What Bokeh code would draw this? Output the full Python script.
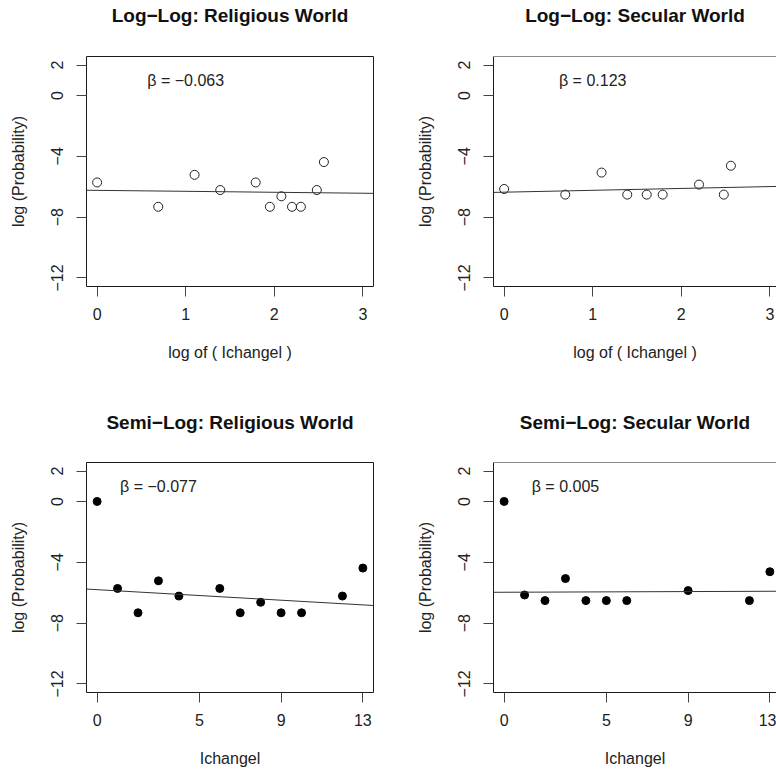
import math
from bokeh.plotting import figure
from bokeh.models import FixedTicker, Slope, ColumnDataSource, Range1d, Span, Title
from bokeh.layouts import column, row
from bokeh.embed import file_html
from bokeh.resources import INLINE
from bokeh.core.properties import value

FONT = "Liberation Sans"

# ---- data ----
titles = ["Log\u2212Log: Religious World", "Log\u2212Log: Secular World",
          "Semi\u2212Log: Religious World", "Semi\u2212Log: Secular World"]
xlabels = ["log of ( Ichangel )", "log of ( Ichangel )", "Ichangel", "Ichangel"]
ylabel = "log (Probability)"

loglog_rel_x = [0.0, 0.69, 1.10, 1.39, 1.79, 1.95, 2.08, 2.20, 2.30, 2.48, 2.56]
loglog_rel_y = [-5.72, -7.32, -5.22, -6.22, -5.72, -7.32, -6.63, -7.32, -7.32, -6.22, -4.38]

loglog_sec_x = [0.0, 0.69, 1.10, 1.39, 1.61, 1.79, 2.20, 2.48, 2.56]
loglog_sec_y = [-6.15, -6.52, -5.07, -6.52, -6.52, -6.52, -5.86, -6.52, -4.62]

semilog_rel_x = [0, 1, 2, 3, 4, 6, 7, 8, 9, 10, 12, 13]
semilog_rel_y = [0.0, -5.72, -7.32, -5.22, -6.22, -5.72, -7.32, -6.63, -7.32, -7.32, -6.22, -4.38]

semilog_sec_x = [0, 1, 2, 3, 4, 5, 6, 9, 12, 13]
semilog_sec_y = [0.0, -6.15, -6.52, -5.07, -6.52, -6.52, -6.52, -5.86, -6.52, -4.62]

betas = [-0.063, 0.123, -0.077, 0.005]
intercepts = [-6.24, -6.36, -5.80, -5.97]
beta_labels = ["\u03b2 = \u22120.063", "\u03b2 = 0.123", "\u03b2 = \u22120.077", "\u03b2 = 0.005"]
beta_pos_x = [1, 1, 3, 3]
beta_pos_y = [1, 1, 1, 1]

loglog_xticks = [0, 1, 2, 3]
semilog_xticks = [0, 5, 9, 13]
yticks = [-12, -8, -4, 0, 2]
Y_LIM = (-12, 2)
LOG_XLIM = (0, 3)
SEMI_XLIM = (0, 13)

FRAME_W = 287      # full (uncut) plot-box width in px
FRAME_H = 230
PAD = 0.04         # R-style axis padding
WIN_RIGHT_FRAME = 283  # visible part of the right column boxes


def padded(lim):
    d = lim[1] - lim[0]
    return (lim[0] - PAD * d, lim[1] + PAD * d)


def panel(i, xs, ys, xticks, xlim, filled, right_col, top_row):
    x0, x1 = padded(xlim)
    px_per_unit = FRAME_W / (x1 - x0)
    frame_w = WIN_RIGHT_FRAME if right_col else FRAME_W
    if right_col:
        x1 = x0 + frame_w / px_per_unit
    y0, y1 = padded(Y_LIM)
    p = figure(
        output_backend="svg", toolbar_location=None,
        x_range=Range1d(x0, x1), y_range=Range1d(y0, y1),
        frame_width=frame_w, frame_height=FRAME_H,
        min_border_left=86, min_border_right=(0 if right_col else 34),
        min_border_top=56, min_border_bottom=(120 if top_row else 81),
    )
    p.grid.visible = False

    # spacer between box and title, then the title itself (stacked outward)
    p.add_layout(Title(text=" ", text_font_size="1px", standoff=28 if top_row else 27), "above")
    p.add_layout(Title(text=titles[i], align="center", standoff=0,
                       text_font=FONT, text_font_size="19px", text_font_style="bold",
                       text_color="#111111"), "above")

    for ax in (p.xaxis[0], p.yaxis[0]):
        ax.major_tick_in = 0
        ax.major_tick_out = 10
        ax.major_tick_line_color = "#444444"
        ax.minor_tick_line_color = None
        ax.major_label_text_font = FONT
        ax.major_label_text_font_size = "16px"
        ax.major_label_text_color = "#222222"
        ax.axis_label_text_font = FONT
        ax.axis_label_text_font_size = "16px"
        ax.axis_label_text_font_style = "normal"
        ax.axis_label_text_color = "#222222"

    if right_col:
        # box cut at the window edge: draw only left, bottom and top edges
        p.outline_line_color = None
        for ax in (p.xaxis[0], p.yaxis[0]):
            ax.axis_line_color = "#1a1a1a"
            ax.axis_line_width = 1
        p.add_layout(Span(location=y1, dimension="width",
                          line_color="#1a1a1a", line_width=1))
    else:
        p.outline_line_color = "#1a1a1a"
        p.outline_line_width = 1
        p.outline_line_alpha = 1
        for ax in (p.xaxis[0], p.yaxis[0]):
            ax.axis_line_color = None

    p.xaxis.ticker = FixedTicker(ticks=xticks)
    p.yaxis.ticker = FixedTicker(ticks=yticks)
    p.xaxis.axis_label = xlabels[i]
    p.yaxis.axis_label = ylabel
    p.yaxis.major_label_orientation = "vertical"
    p.xaxis.major_label_standoff = 11
    p.yaxis.major_label_standoff = 13
    p.xaxis.axis_label_standoff = 21
    p.yaxis.axis_label_standoff = 22

    p.add_layout(Slope(gradient=betas[i], y_intercept=intercepts[i],
                       line_color="#333333", line_width=1))
    src = ColumnDataSource(dict(x=xs, y=ys))
    if filled:
        p.scatter("x", "y", source=src, size=8, marker="circle",
                  fill_color="black", line_color="black")
    else:
        p.scatter("x", "y", source=src, size=9, marker="circle",
                  fill_color=None, line_color="#222222", line_width=1)
    p.text(x=[beta_pos_x[i]], y=[beta_pos_y[i]], text=[beta_labels[i]],
           text_align="center", text_baseline="middle",
           text_font=value(FONT), text_font_size="16px", text_color="#222222")
    return p


p1 = panel(0, loglog_rel_x, loglog_rel_y, loglog_xticks, LOG_XLIM, False, False, True)
p2 = panel(1, loglog_sec_x, loglog_sec_y, loglog_xticks, LOG_XLIM, False, True, True)
p3 = panel(2, semilog_rel_x, semilog_rel_y, semilog_xticks, SEMI_XLIM, True, False, False)
p4 = panel(3, semilog_sec_x, semilog_sec_y, semilog_xticks, SEMI_XLIM, True, True, False)

layout = column(row(p1, p2), row(p3, p4))
open("out.html", "w").write(file_html(layout, INLINE))
